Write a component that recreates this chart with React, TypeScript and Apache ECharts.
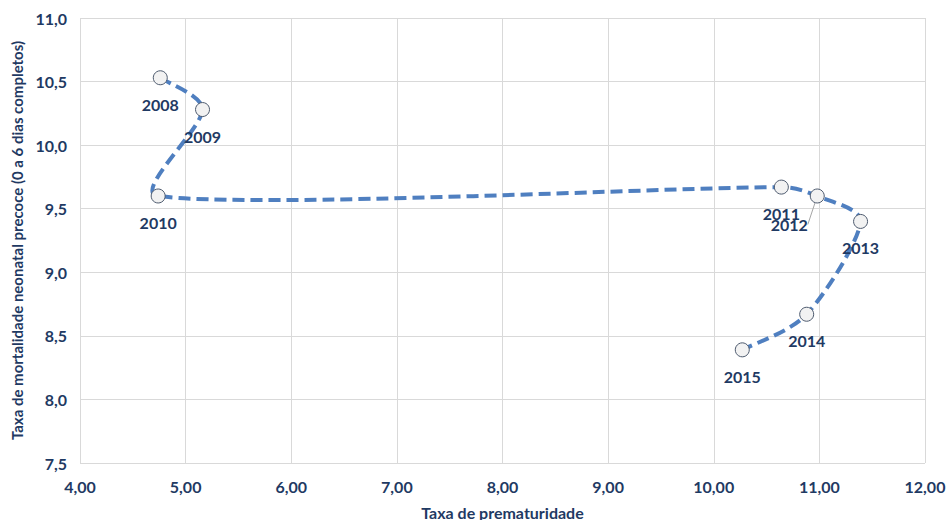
import React, { useEffect, useRef } from "react";
import * as echarts from "echarts";

const years = ["2008", "2009", "2010", "2011", "2012", "2013", "2014", "2015"];
const prematurity = [4.76, 5.16, 4.74, 10.64, 10.98, 11.39, 10.88, 10.27];
const mortality = [10.53, 10.28, 9.6, 9.67, 9.6, 9.4, 8.67, 8.39];

const xAxisName = "Taxa de prematuridade";
const yAxisName = "Taxa de mortalidade neonatal precoce (0 a 6 dias completos)";

const navy = "#1f3a63";
const font = "Lato, 'Open Sans', sans-serif";

function smoothPath(pts: number[][]): string {
  const n = pts.length;
  const get = (i: number) => pts[Math.max(0, Math.min(n - 1, i))];
  const dist = (a: number[], b: number[]) => Math.hypot(b[0] - a[0], b[1] - a[1]);
  let d = `M${pts[0][0]},${pts[0][1]}`;
  for (let i = 0; i < n - 1; i++) {
    const p0 = get(i - 1), p1 = get(i), p2 = get(i + 1), p3 = get(i + 2);
    const dPrev = dist(p0, p1), dCur = dist(p1, p2), dNext = dist(p2, p3);
    const s1 = dPrev > 0 ? Math.min(1, (2 * dCur) / (dPrev + dCur)) : 1;
    const s2 = dNext > 0 ? Math.min(1, (2 * dCur) / (dCur + dNext)) : 1;
    const c1 = [p1[0] + ((p2[0] - p0[0]) / 6) * s1, p1[1] + ((p2[1] - p0[1]) / 6) * s1];
    const c2 = [p2[0] - ((p3[0] - p1[0]) / 6) * s2, p2[1] - ((p3[1] - p1[1]) / 6) * s2];
    d += ` C${c1[0]},${c1[1]} ${c2[0]},${c2[1]} ${p2[0]},${p2[1]}`;
  }
  return d;
}

export default function App() {
  const ref = useRef<HTMLDivElement>(null);
  useEffect(() => {
    if (!ref.current) return;
    const chart = echarts.init(ref.current, undefined, { renderer: "svg" });
    const pointData = years.map((y, i) => ({
      value: [prematurity[i], mortality[i]],
      name: y,
      labelLine: { show: i === 4 },
    }));
    chart.setOption({
      animation: false,
      grid: { left: 80, right: 22, top: 18, bottom: 57, outerBoundsMode: "none", containLabel: false },
      xAxis: {
        type: "value",
        min: 4,
        max: 12,
        interval: 1,
        name: xAxisName,
        nameLocation: "middle",
        nameGap: 41,
        nameTextStyle: { color: navy, fontWeight: "bold", fontSize: 16, fontFamily: font },
        axisLine: { show: false },
        axisTick: { show: false },
        splitLine: { show: true, lineStyle: { color: "#d9d9d9", width: 1 } },
        axisLabel: {
          color: navy,
          fontWeight: "bold",
          fontSize: 16,
          fontFamily: font,
          margin: 15,
          formatter: (v: number) => v.toFixed(2).replace(".", ","),
        },
      },
      yAxis: {
        type: "value",
        min: 7.5,
        max: 11,
        interval: 0.5,
        name: yAxisName,
        nameLocation: "middle",
        nameGap: 54,
        nameRotate: 90,
        nameTextStyle: { color: navy, fontWeight: "bold", fontSize: 15, fontFamily: font },
        axisLine: { show: false },
        axisTick: { show: false },
        splitLine: { show: true, lineStyle: { color: "#d9d9d9", width: 1 } },
        axisLabel: {
          color: navy,
          fontWeight: "bold",
          fontSize: 16,
          fontFamily: font,
          margin: 13,
          formatter: (v: number) => v.toFixed(1).replace(".", ","),
        },
      },
      series: [
        {
          type: "custom",
          data: [[prematurity[0], mortality[0]]],
          silent: true,
          z: 1,
          renderItem: (params: any, api: any) => {
            if (params.dataIndex !== 0) return null;
            const pts = prematurity.map((x, i) => api.coord([x, mortality[i]]));
            return {
              type: "path",
              shape: { pathData: smoothPath(pts) },
              style: {
                fill: "none",
                stroke: "#4f7fc0",
                lineWidth: 4,
                lineDash: [12, 6],
                lineCap: "butt",
              },
            };
          },
        },
        {
          type: "scatter",
          data: pointData,
          z: 3,
          symbol: "circle",
          symbolSize: 14,
          itemStyle: { color: "#f2f2f2", borderColor: "#4d5a6e", borderWidth: 1, opacity: 1 },
          label: {
            show: true,
            position: "bottom",
            distance: 11,
            formatter: (p: any) => p.name,
            color: navy,
            fontWeight: "bold",
            fontSize: 16,
            fontFamily: font,
          },
          labelLine: { show: false, lineStyle: { color: "#a6a6a6", width: 1 } },
          labelLayout: (p: any) => (p.dataIndex === 4 ? { dx: -28, dy: 2 } : {}),
        },
      ],
    });
    return () => chart.dispose();
  }, []);
  return <div ref={ref} style={{ width: 947, height: 520, position: "absolute", left: 0, top: 0 }} />;
}
